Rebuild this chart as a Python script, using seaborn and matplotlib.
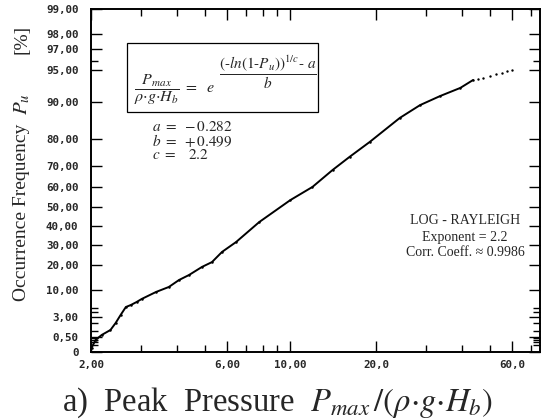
import numpy as np
import pandas as pd
import matplotlib
matplotlib.use("Agg")
import matplotlib.pyplot as plt
import seaborn as sns
from matplotlib.patches import Rectangle
from matplotlib.ticker import FixedLocator, FixedFormatter, NullFormatter

# ---- data ----
pressure = [2.01, 2.075, 2.18, 2.34, 2.44, 2.54, 2.65, 2.76, 2.89, 3.01, 3.38, 3.75,
            4.07, 4.41, 4.90, 5.31, 5.76, 6.45, 7.78, 10.0, 11.95, 14.06, 16.13,
            18.97, 24.2, 28.5, 33.5, 39.4, 43.7]
freq = [0.03, 0.29, 0.62, 1.09, 1.99, 3.38, 5.14, 5.65, 6.44, 7.29, 9.47, 11.2,
        13.8, 15.8, 19.3, 21.5, 26.4, 31.4, 42.0, 53.6, 60.2, 68.1, 73.6,
        79.1, 86.3, 89.3, 91.1, 92.5, 93.7]
tail_pressure = [45.5, 47.5, 50.1, 52.5, 55.0, 57.5, 60.0]
tail_freq = [93.8, 94.0, 94.25, 94.45, 94.65, 94.85, 95.0]

x_major = [2, 6, 10, 20, 60]
x_major_labels = ["2,00", "6,00", "10,00", "20,0", "60,0"]
x_minor = [3, 4, 5, 7, 8, 9, 30, 40, 50, 70]
y_major = [0, 0.5, 3, 10, 20, 30, 40, 50, 60, 70, 80, 90, 95, 97, 98, 99]
y_major_labels = ["0", "0,50", "3,00", "10,00", "20,00", "30,00", "40,00", "50,00",
                  "60,00", "70,00", "80,00", "90,00", "95,00", "97,00", "98,00", "99,00"]
y_minor = [0.1, 0.2, 0.3, 0.4, 1, 2, 4, 5, 96]
EXPONENT = 2.2

sns.set_style("ticks")
plt.rcParams["mathtext.fontset"] = "stix"
plt.rcParams["font.family"] = ["Liberation Serif", "DejaVu Serif"]

W, H = 545, 420
fig = plt.figure(figsize=(W / 100, H / 100), dpi=100)
L, R, T, B = 91, 540, 9, 352
ax = fig.add_axes([L / W, 1 - B / H, (R - L) / W, (B - T) / H])


def fwd(p):
    p = np.clip(np.asarray(p, dtype=float), 0, 99.9999) / 100.0
    return np.power(-np.log1p(-p), 1.0 / EXPONENT)


def inv(t):
    t = np.clip(np.asarray(t, dtype=float), 0, None)
    return 100.0 * (1 - np.exp(-np.power(t, EXPONENT)))


ax.set_xscale("log")
ax.set_yscale("function", functions=(fwd, inv))

df = pd.DataFrame({"pressure": pressure, "freq": freq})
tail = pd.DataFrame({"pressure": tail_pressure, "freq": tail_freq})
sns.lineplot(data=df, x="pressure", y="freq", sort=False, color="black", lw=1.4,
             marker="o", markersize=1.8, markeredgewidth=0, ax=ax)
sns.scatterplot(data=tail, x="pressure", y="freq", color="black", s=3, linewidth=0, ax=ax)

ax.set_xlim(2, 75)
ax.set_ylim(0, 99)
ax.set_xlabel("")
ax.set_ylabel("")

ax.xaxis.set_major_locator(FixedLocator(x_major))
ax.xaxis.set_major_formatter(FixedFormatter(x_major_labels))
ax.xaxis.set_minor_locator(FixedLocator(x_minor))
ax.xaxis.set_minor_formatter(NullFormatter())
ax.yaxis.set_major_locator(FixedLocator(y_major))
ax.yaxis.set_major_formatter(FixedFormatter(y_major_labels))
ax.yaxis.set_minor_locator(FixedLocator(y_minor))
ax.yaxis.set_minor_formatter(NullFormatter())

ax.tick_params(which="both", direction="in", top=True, right=True, color="black", width=1.0)
ax.tick_params(which="major", length=8)
ax.tick_params(which="minor", length=5)
ax.tick_params(axis="x", which="major", pad=6)
ax.tick_params(axis="y", which="major", pad=9)
for lab in ax.get_xticklabels() + ax.get_yticklabels():
    lab.set_fontfamily("DejaVu Sans Mono")
    lab.set_fontweight("bold")
    lab.set_fontsize(7.8)
for s in ax.spines.values():
    s.set_visible(True)
    s.set_linewidth(1.4)
    s.set_color("black")


def px(x, y):
    return x / W, 1 - y / H


# formula box
fig.patches.append(Rectangle(px(127, 112), (318 - 127) / W, (112 - 43) / H,
                             transform=fig.transFigure, fill=False, ec="black", lw=0.9))
fig.text(*px(134, 90), r"$\dfrac{P_{max}}{\rho{\cdot}g{\cdot}H_b}\ =\ \ e$", fontsize=11.5,
         ha="left", va="center")
fig.text(*px(268, 72), r"$\dfrac{(\text{-}ln(1\text{-}P_u))^{1/c}\text{-}\ a}{b}$", fontsize=11,
         ha="center", va="center")

fig.text(*px(152, 127), r"$a\ =\ -0.282$", fontsize=11, ha="left", va="center")
fig.text(*px(152, 141), r"$b\ =\ +0.499$", fontsize=11, ha="left", va="center")
fig.text(*px(152, 155), r"$c\ =\ \ \ 2.2$", fontsize=11, ha="left", va="center")

fig.text(*px(465, 221), "LOG - RAYLEIGH", fontsize=10, ha="center", va="center")
fig.text(*px(465, 237), "Exponent = 2.2", fontsize=10, ha="center", va="center")
fig.text(*px(465, 253), "Corr. Coeff. \u2248 0.9986", fontsize=10, ha="center", va="center")

fig.text(*px(22, 212), "Occurrence Frequency", fontsize=14, rotation=90,
         ha="center", va="center")
fig.text(*px(22, 104), r"$P_u$", fontsize=15, rotation=90, ha="center", va="center")
fig.text(*px(22, 39), "[%]", fontsize=14, rotation=90, ha="center", va="center")
fig.text(*px(62, 411), r"a)  Peak  Pressure  $P_{max}\,/(\rho{\cdot}g{\cdot}H_b)$",
         fontsize=23.5, ha="left", va="baseline")

fig.savefig("out.png", dpi=100, facecolor="white")
